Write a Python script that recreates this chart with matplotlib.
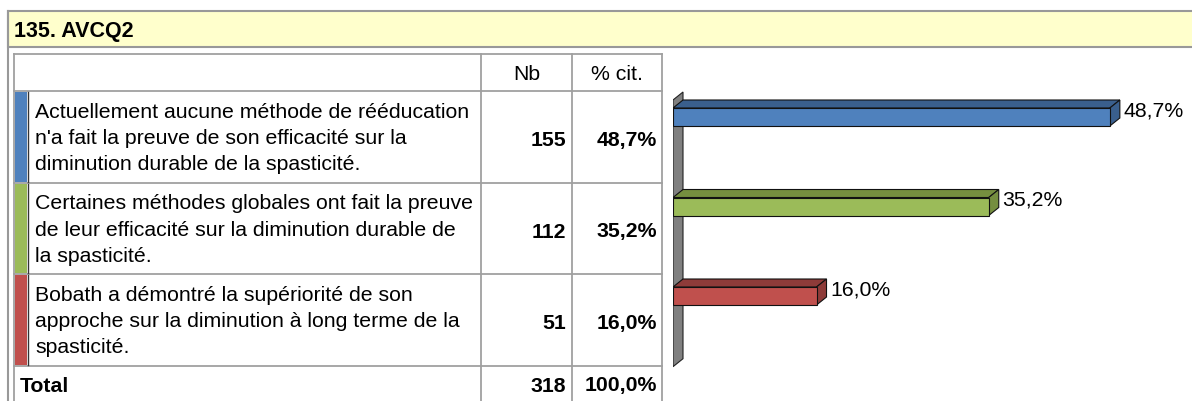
import matplotlib
matplotlib.use("Agg")
import matplotlib.pyplot as plt
from matplotlib.patches import Rectangle, Polygon

plt.rcParams['font.family'] = ['Liberation Sans', 'DejaVu Sans']

title = "135. AVCQ2"
categories = [
    "Actuellement aucune méthode de rééducation\nn'a fait la preuve de son efficacité sur la\ndiminution durable de la spasticité.",
    "Certaines méthodes globales ont fait la preuve\nde leur efficacité sur la diminution durable de\nla spasticité.",
    "Bobath a démontré la supériorité de son\napproche sur la diminution à long terme de la\nspasticité.",
]
counts = [155, 112, 51]
percents = [48.7, 35.2, 16.0]
total_count = 318
total_pct = "100,0%"
col_headers = ["Nb", "% cit."]
front_colors = ["#4F81BD", "#9BBB59", "#C0504D"]
dark_colors = ["#3A5F8D", "#758E3F", "#8E3B39"]

W, H = 1192, 401
fig = plt.figure(figsize=(W / 100, H / 100), dpi=100)
bg = fig.add_axes([0, 0, 1, 1])
bg.set_xlim(0, W)
bg.set_ylim(H, 0)
bg.axis('off')

grid = "#A0A0A0"
FS = 15.3

# title band
bg.add_patch(Rectangle((8, 11), W, 36, facecolor="#FFFFCC", edgecolor="#999999", lw=1.5))
bg.plot([8, 8], [11, H], color="#999999", lw=1.5)
bg.text(14, 31, title, fontsize=15.5, fontweight='bold', va='center', ha='left')

# table
tx0, c1, c2, c3 = 14, 481, 572, 662
rows = [54, 91, 183, 274, 366, H + 5]
for y in rows[:-1]:
    bg.plot([tx0, c3], [y, y], color=grid, lw=1.3)
for x in (tx0, c1, c2, c3):
    bg.plot([x, x], [rows[0], H], color=grid, lw=1.3)
bg.text((c1 + c2) / 2, 74, col_headers[0], fontsize=FS, ha='center', va='center')
bg.text((c2 + c3) / 2, 74, col_headers[1], fontsize=FS, ha='center', va='center')

for i, (lab, n, p) in enumerate(zip(categories, counts, percents)):
    y0, y1 = rows[i + 1], rows[i + 2]
    yc = (y0 + y1) / 2
    bg.add_patch(Rectangle((tx0 + 1, y0 + 1), 12, y1 - y0 - 2, facecolor=front_colors[i], edgecolor='none'))
    bg.plot([tx0 + 13.5, tx0 + 13.5], [y0 + 1, y1 - 1], color="#333333", lw=1)
    bg.text(35, yc + 1.5, lab, fontsize=FS, ha='left', va='center', linespacing=1.48)
    bg.text(c2 - 6, yc + 3.5, str(n), fontsize=FS, fontweight='bold', ha='right', va='center')
    bg.text(c3 - 5, yc + 3.5, ("%.1f%%" % p).replace('.', ','), fontsize=FS, fontweight='bold', ha='right', va='center')

yt = 386
bg.text(20, yt, "Total", fontsize=FS, fontweight='bold', ha='left', va='center')
bg.text(c2 - 6, yt, str(total_count), fontsize=FS, fontweight='bold', ha='right', va='center')
bg.text(c3 - 5, yt, total_pct, fontsize=FS, fontweight='bold', ha='right', va='center')

# chart axes (data coordinates)
px0 = 673
pxper = 8.97
ypix0, ystep = 117, 89.5
ax = fig.add_axes([px0 / W, 0, (W - px0) / W, 1])
ax.set_xlim(0, (W - px0) / pxper)
ax.set_ylim((H - ypix0) / ystep, -ypix0 / ystep)
ax.axis('off')

dx = 10 / pxper
dy = -8 / ystep
hh = 9 / ystep

# wall
wt, wb = -0.19, 2.79
ax.add_patch(Polygon([(0, wt), (dx, wt + dy), (dx, wb + dy), (0, wb)], closed=True,
                     facecolor="#808080", edgecolor="#222222", lw=0.8))

for i, p in enumerate(percents):
    yc = i
    top, bot = yc - hh, yc + hh
    ax.add_patch(Polygon([(0, top), (dx, top + dy), (p + dx, top + dy), (p, top)], closed=True,
                         facecolor=dark_colors[i], edgecolor="#111111", lw=0.8))
    ax.add_patch(Polygon([(p, top), (p + dx, top + dy), (p + dx, bot + dy), (p, bot)], closed=True,
                         facecolor=dark_colors[i], edgecolor="#111111", lw=0.8))
    ax.add_patch(Rectangle((0, top), p, bot - top, facecolor=front_colors[i], edgecolor="#111111", lw=0.8))
    ax.text(p + dx + 0.4, top + 0.03, ("%.1f%%" % p).replace('.', ','), fontsize=FS, ha='left', va='center')

fig.savefig("out.png", dpi=100)
